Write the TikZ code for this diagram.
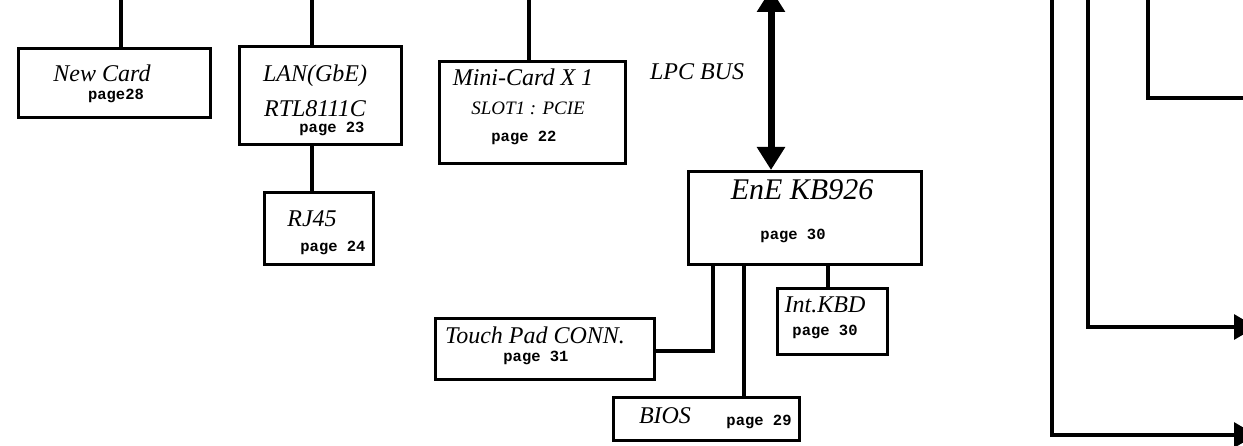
\documentclass[tikz,border=0pt]{standalone}
\usepackage{fontspec}
\setmainfont{Liberation Serif}
\newfontfamily\cour{Liberation Mono}
\usetikzlibrary{arrows.meta}
\tikzset{
  blk/.style={draw=black, line width=3.4pt, anchor=north west, inner sep=0pt, fill=none},
  wire/.style={draw=black, line width=3.2pt},
  nm/.style={anchor=base, inner sep=0pt, font=\fontsize{24}{26}\selectfont\itshape},
  pg/.style={anchor=base, inner sep=0pt, font=\fontsize{15.5}{17}\selectfont\cour\bfseries},
  bus/.style={draw=black, line width=7pt, {Triangle[width=27pt,length=23pt]}-{Triangle[width=27pt,length=23pt]}},
  outarr/.style={draw=black, line width=3.2pt, -{Triangle[width=25pt,length=22pt]}}
}
\begin{document}
\begin{tikzpicture}[x=1pt,y=-1pt]
\clip (0,0) rectangle (1243,446);
\useasboundingbox (0,0) rectangle (1243,446);
% boxes
\node[blk, minimum width=192pt, minimum height=69pt] (nc) at (17,47) {};
\node[blk, minimum width=162pt, minimum height=98pt] (lan) at (238,45) {};
\node[blk, minimum width=109pt, minimum height=72pt] (rj) at (263,191) {};
\node[blk, minimum width=186pt, minimum height=102pt] (mc) at (438,60) {};
\node[blk, minimum width=233pt, minimum height=93pt] (ec) at (687,170) {};
\node[blk, minimum width=219pt, minimum height=61pt] (tp) at (434,317) {};
\node[blk, minimum width=186pt, minimum height=43pt] (bios) at (612,396) {};
\node[blk, minimum width=110pt, minimum height=66pt] (kbd) at (776,287) {};
% texts
\node[nm] (t1) at (102,82) {New Card};
\node[pg] (p1) at (116,100) {page28};
\node[nm] (t2) at (315,82) {LAN(GbE)};
\node[nm] (t2b) at (315,117) {RTL8111C};
\node[pg] (p2) at (332,133) {page 23};
\node[nm] (t3) at (312,227) {RJ45};
\node[pg] (p3) at (333,252) {page 24};
\node[nm] (t4) at (523,86) {Mini-Card X 1};
\node[nm, font=\fontsize{19}{21}\selectfont\itshape] (t4b) at (528,115) {SLOT1 : PCIE};
\node[pg] (p4) at (524,142) {page 22};
\node[nm] (lpc) at (697,80) {LPC BUS};
\node[nm, font=\fontsize{30}{32}\selectfont\itshape] (t5) at (802,200) {EnE KB926};
\node[pg] (p5) at (793,240) {page 30};
\node[nm] (t6) at (535,344) {Touch Pad CONN.};
\node[pg] (p6) at (536,362) {page 31};
\node[nm] (t7) at (825,313) {Int.KBD};
\node[pg] (p7) at (825,336) {page 30};
\node[nm] (t8) at (665,424) {BIOS};
\node[pg] (p8) at (759,425) {page 29};
% coordinates
\coordinate (nctop) at (121,-2);
\coordinate (lantop) at (312,-2);
\coordinate (mctop) at (529,-2);
\coordinate (bustop) at (771,-11);
\coordinate (tpj) at (713,351);
\coordinate (rbx) at (1148,-2);
\coordinate (rbc) at (1148,98);
\coordinate (rbe) at (1250,98);
\coordinate (a1s) at (1088,-2);
\coordinate (a1c) at (1088,327);
\coordinate (a1e) at (1256,327);
\coordinate (a2s) at (1052,-2);
\coordinate (a2c) at (1052,435);
\coordinate (a2e) at (1256,435);
% connectors
\draw[wire] (nctop) -- (nc.north -| nctop);
\draw[wire] (lantop) -- (lan.north -| lantop);
\draw[wire] (lan.south -| lantop) -- (rj.north -| lantop);
\draw[wire] (mctop) -- (mc.north -| mctop);
\draw[bus] (bustop) -- (ec.north -| bustop);
\draw[wire] (ec.south -| tpj) -- (tpj) -- (tp.east |- tpj);
\draw[wire] (ec.south -| 744,0) -- (bios.north -| 744,0);
\draw[wire] (ec.south -| 828,0) -- (kbd.north -| 828,0);
\draw[wire] (rbx) -- (rbc) -- (rbe);
\draw[outarr] (a1s) -- (a1c) -- (a1e);
\draw[outarr] (a2s) -- (a2c) -- (a2e);
\end{tikzpicture}
\end{document}
